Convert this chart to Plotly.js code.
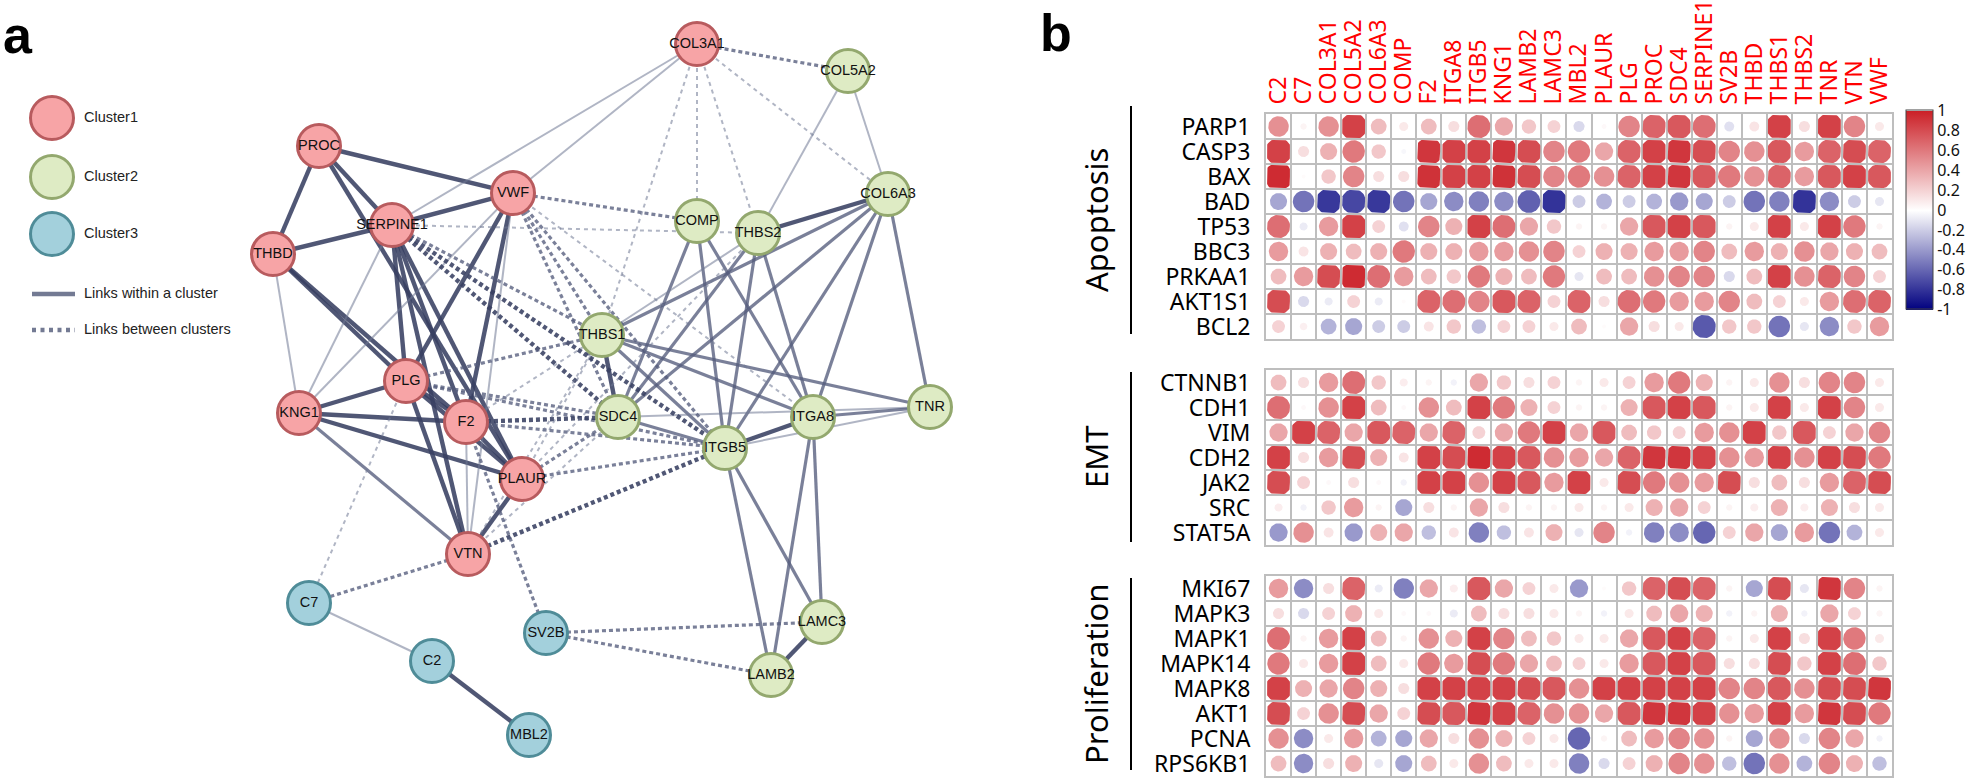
<!DOCTYPE html>
<html><head><meta charset="utf-8">
<script src="https://cdn.plot.ly/plotly-3.0.1.min.js"></script>
<style>html,body{margin:0;padding:0;background:#fff;}#chart{width:1975px;height:778px;}</style>
</head><body><div id="chart"></div>
<script>
// ---------------- DATA ----------------
// Network (panel a)
const nodeNames   = ['PROC','SERPINE1','THBD','VWF','COL3A1','PLG','KNG1','F2','PLAUR','VTN',
                     'COL5A2','COMP','THBS2','COL6A3','THBS1','SDC4','ITGB5','ITGA8','TNR','LAMC3','LAMB2',
                     'C7','C2','MBL2','SV2B'];
const nodeX       = [319,392,273,513,697,406,299,466,522,468, 848,697,758,888,602,618,725,813,930,822,771, 309,432,529,546];
const nodeY       = [146,225,254,193,44,381,413,422,479,554, 71,221,233,194,335,417,448,417,407,622,675, 603,661,735,633];
const nodeCluster = [0,0,0,0,0,0,0,0,0,0, 1,1,1,1,1,1,1,1,1,1,1, 2,2,2,2];
const clusterNames = ['Cluster1','Cluster2','Cluster3'];
// edges: [source, target, strength 1..3]
const edges = [
 ['PROC','THBD',3],['PROC','SERPINE1',3],['PROC','VWF',3],['PROC','PLAUR',3],
 ['THBD','SERPINE1',3],['THBD','KNG1',1],['THBD','PLG',3],['THBD','F2',3],
 ['SERPINE1','VWF',3],['SERPINE1','PLG',3],['SERPINE1','F2',3],['SERPINE1','PLAUR',3],['SERPINE1','VTN',3],
 ['SERPINE1','KNG1',1],['SERPINE1','COL3A1',1],['VWF','COL3A1',1],
 ['KNG1','PLG',3],['KNG1','F2',3],['KNG1','PLAUR',3],['KNG1','VTN',2],['KNG1','VWF',1],
 ['PLG','F2',3],['PLG','PLAUR',3],['PLG','VTN',3],['F2','PLAUR',3],['F2','VTN',1],['PLAUR','VTN',3],
 ['VWF','PLG',3],['VWF','F2',3],['VWF','VTN',1],
 ['COL5A2','THBS2',1],['COL5A2','COL6A3',1],['COMP','SDC4',2],['COMP','ITGB5',2],['COMP','ITGA8',2],
 ['THBS2','COL6A3',3],['THBS2','SDC4',2],['THBS2','ITGB5',2],['THBS2','ITGA8',2],['THBS2','THBS1',1],
 ['COL6A3','THBS1',2],['COL6A3','SDC4',2],['COL6A3','ITGB5',2],['COL6A3','ITGA8',2],['COL6A3','TNR',2],
 ['THBS1','SDC4',3],['THBS1','ITGB5',2],['THBS1','ITGA8',2],['THBS1','TNR',2],['SDC4','ITGB5',2],['SDC4','TNR',1],
 ['ITGB5','ITGA8',3],['ITGB5','TNR',1],['ITGA8','TNR',2],['ITGB5','LAMB2',2],['ITGB5','LAMC3',2],
 ['ITGA8','LAMB2',2],['ITGA8','LAMC3',2],['LAMB2','LAMC3',3],
 ['C7','C2',1],['C2','MBL2',3],
 ['COL3A1','COL5A2',2],['COL3A1','COMP',1],['COL3A1','THBS2',1],['COL3A1','COL6A3',1],['COL3A1','THBS1',1],
 ['VWF','COMP',2],['VWF','THBS1',2],['VWF','SDC4',2],['VWF','ITGB5',2],['VWF','ITGA8',1],
 ['SERPINE1','THBS2',1],['SERPINE1','THBS1',2],['SERPINE1','SDC4',3],['SERPINE1','ITGB5',3],
 ['PLG','THBS1',2],['PLG','SDC4',2],['PLG','ITGB5',2],['F2','SDC4',3],['F2','THBS1',1],['F2','ITGB5',2],
 ['PLAUR','SDC4',2],['PLAUR','ITGB5',2],['PLAUR','THBS1',1],['THBS2','PLAUR',1],
 ['VTN','ITGB5',3],['VTN','THBS1',1],['VTN','SDC4',1],['VTN','C7',2],['PLG','C7',1],
 ['SV2B','F2',2],['SV2B','LAMC3',2],['SV2B','LAMB2',2]
];
const legendLinkLabels = ['Links within a cluster','Links between clusters'];

// Correlation matrix (panel b)
const colNames = ['C2','C7','COL3A1','COL5A2','COL6A3','COMP','F2','ITGA8','ITGB5','KNG1','LAMB2','LAMC3','MBL2',
                  'PLAUR','PLG','PROC','SDC4','SERPINE1','SV2B','THBD','THBS1','THBS2','TNR','VTN','VWF'];
const groupNames = ['Apoptosis','EMT','Proliferation'];
const apoptosisRows = ['PARP1','CASP3','BAX','BAD','TP53','BBC3','PRKAA1','AKT1S1','BCL2'];
const emtRows = ['CTNNB1','CDH1','VIM','CDH2','JAK2','SRC','STAT5A'];
const proliferationRows = ['MKI67','MAPK3','MAPK1','MAPK14','MAPK8','AKT1','PCNA','RPS6KB1'];
const apoptosisValues = [
 [.5,.05,.5,.85,.3,.1,.3,.15,.65,.4,.25,.2,-.15,.03,.55,.7,.75,.65,-.12,.12,.85,.15,.85,.55,.1],
 [.85,.15,.35,.6,.25,-.03,.9,.85,.85,.9,.8,.55,.6,.4,.7,.85,.9,.8,.55,.5,.75,.45,.7,.8,.7],
 [.95,.02,.25,.55,.15,.15,.92,.85,.85,.92,.8,.55,.6,.5,.7,.85,.9,.75,.6,.5,.7,.45,.75,.85,.75],
 [-.35,-.55,-.78,-.72,-.78,-.55,-.35,-.45,-.5,-.45,-.62,-.8,-.2,-.3,-.2,-.3,-.4,-.35,-.2,-.55,-.5,-.8,-.45,-.2,-.1],
 [.65,-.08,.45,.85,.2,-.12,.55,.35,.85,.65,.4,.25,.05,.05,.4,.75,.85,.75,.05,.1,.85,.1,.85,.6,.05],
 [.45,.12,.35,.3,.35,.6,.35,.35,.45,.45,.5,.55,.2,.35,.35,.45,.45,.55,.3,.45,.35,.5,.4,.35,.3],
 [.3,.45,.8,.95,.65,.45,.3,.25,.6,.35,.3,.6,-.1,.3,.3,.5,.55,.55,-.15,.3,.85,.5,.7,.55,.2],
 [.8,-.15,-.08,.2,-.08,.02,.7,.65,.55,.75,.7,.2,.7,.15,.65,.6,.45,.45,.55,.3,.2,.1,.45,.65,.7],
 [.2,.07,-.3,-.35,-.2,-.2,.12,.25,-.25,.2,.2,.1,.3,.02,.4,.15,.1,-.65,.25,.25,-.55,-.1,-.45,.25,.45]
];
const emtValues = [
 [.3,.15,.45,.65,.25,.08,.05,-.05,.4,.25,.15,.2,.05,.1,.2,.45,.6,.35,.05,.1,.5,.15,.55,.55,.1],
 [.65,.03,.5,.85,.3,.03,.5,.3,.85,.6,.35,.2,.05,.05,.35,.75,.85,.75,.05,.1,.85,.1,.85,.55,.1],
 [.4,.85,.7,.4,.75,.7,.4,.7,.2,.4,.6,.85,.4,.75,.3,.25,.2,.45,.5,.85,.25,.75,.2,.4,.55],
 [.85,.15,.45,.8,.35,.12,.85,.8,.95,.85,.75,.5,.45,.4,.7,.9,.9,.85,.5,.45,.85,.5,.85,.8,.6],
 [.8,.2,.03,.15,.03,-.05,.85,.85,.5,.85,.75,.45,.85,.1,.8,.6,.5,.45,.8,.15,.3,.15,.45,.7,.8],
 [.08,-.05,.25,.45,.05,-.35,.15,.05,.4,.15,.05,.05,.1,.05,.1,.35,.4,.2,.05,.08,.35,.08,.35,.15,.1],
 [-.4,.5,.12,-.4,.35,.4,-.25,.12,-.5,-.25,.12,.35,-.1,.55,-.05,-.5,-.45,-.6,.2,.4,-.35,.45,-.55,-.3,.1]
];
const proliferationValues = [
 [.45,-.45,.15,.7,-.08,-.5,.4,.08,.75,.4,.2,.1,-.4,.02,.25,.7,.8,.7,.05,-.35,.8,-.1,.9,.55,.05],
 [.15,-.15,.2,.35,.1,.03,.03,-.08,.3,.15,.15,.1,.05,-.05,.1,.3,.4,.35,-.05,.05,.35,-.05,.4,.2,.05],
 [.65,.05,.45,.85,.3,.05,.5,.35,.85,.55,.3,.25,.1,.1,.4,.75,.85,.7,.05,.1,.85,.15,.85,.6,.1],
 [.6,.1,.45,.85,.3,.1,.6,.45,.8,.6,.4,.3,.2,.1,.45,.75,.85,.75,.15,.15,.8,.25,.85,.65,.25],
 [.85,.35,.4,.55,.35,.15,.85,.85,.85,.85,.8,.75,.5,.85,.85,.85,.85,.85,.55,.55,.75,.5,.8,.8,.9],
 [.8,.2,.5,.8,.4,.2,.8,.75,.9,.85,.7,.5,.5,.4,.75,.9,.9,.85,.5,.45,.85,.45,.9,.8,.6],
 [.5,-.45,.1,.45,-.3,-.35,.4,.15,.5,.35,.2,.1,-.6,.05,.3,.45,.55,.5,.05,-.35,.5,-.15,.55,.4,-.05],
 [.3,-.45,.15,.35,-.1,-.35,.3,.1,.5,.3,.1,.1,-.5,-.15,.2,.35,.55,.5,-.25,-.55,.5,-.3,.55,.35,-.25]
];
const colorbarTicks = [1,0.8,0.6,0.4,0.2,0,-0.2,-0.4,-0.6,-0.8,-1];

// ---------------- STYLE / LAYOUT ----------------
const W = 1975, H = 778;
const NET_W = 980;
const HX0 = 1266, HX1 = 1892;            // heatmap left/right (px)
const blocksPx = [[114,339],[370,545],[576,776]];
const NEG = [0,0,127], MID = [255,255,255], POS = [203,32,39];
const clusterFill = ['#F7A4A6','#DEEBC4','#A3D0DC'];
const clusterLine = ['#B85B5E','#93A86E','#4F8C98'];
const edgeStyle = {
  1:{color:'rgba(112,120,148,0.55)', w:2.0, dash:'4px,4px'},
  2:{color:'rgba(84,92,124,0.78)',  w:3.2, dash:'4px,3px'},
  3:{color:'rgba(56,64,98,0.88)',   w:4.4, dash:'4px,3px'}
};
const netFont = 'Liberation Sans, Arial, sans-serif';
const heatFont = 'Noto Sans, Open Sans, sans-serif';

function mix(a,b,t){return 'rgb('+a.map((v,i)=>Math.round(v+(b[i]-v)*t)).join(',')+')';}
function cellColor(v){return v>=0? mix(MID,POS,Math.min(1,v)) : mix(MID,NEG,Math.min(1,-v));}

const traces = [];
// ---- network edges
const idx = {}; nodeNames.forEach((n,i)=>idx[n]=i);
edges.forEach(e=>{
  const a = idx[e[0]], b = idx[e[1]];
  const within = nodeCluster[a]===nodeCluster[b];
  const st = edgeStyle[e[2]];
  traces.push({type:'scatter', mode:'lines', x:[nodeX[a],nodeX[b]], y:[nodeY[a],nodeY[b]],
    xaxis:'x', yaxis:'y', hoverinfo:'skip', showlegend:false,
    line:{color:st.color, width: st.w, dash: within? 'solid' : st.dash}});
});
// ---- network nodes
traces.push({type:'scatter', mode:'markers+text', x:nodeX, y:nodeY, text:nodeNames, xaxis:'x', yaxis:'y',
  textposition:'middle center', textfont:{family:netFont, size:14.5, color:'#111'},
  marker:{size:43, color:nodeCluster.map(c=>clusterFill[c]), line:{width:3, color:nodeCluster.map(c=>clusterLine[c])}},
  hoverinfo:'text', showlegend:false, cliponaxis:false});
// ---- network legend
const legX = 52, legY = [118,177,234];
traces.push({type:'scatter', mode:'markers', x:[legX,legX,legX], y:legY, xaxis:'x', yaxis:'y',
  marker:{size:43, color:clusterFill, line:{width:3, color:clusterLine}}, hoverinfo:'skip', showlegend:false});
traces.push({type:'scatter', mode:'text', x:[84,84,84,84,84], y:legY.concat([294,330]),
  text:clusterNames.concat(legendLinkLabels), textposition:'middle right', xaxis:'x', yaxis:'y',
  textfont:{family:netFont, size:14.5, color:'#222'}, hoverinfo:'skip', showlegend:false, cliponaxis:false});
traces.push({type:'scatter', mode:'lines', x:[32,75], y:[294,294], xaxis:'x', yaxis:'y',
  line:{color:'rgba(100,108,135,0.9)', width:4.5}, hoverinfo:'skip', showlegend:false});
traces.push({type:'scatter', mode:'lines', x:[32,75], y:[330,330], xaxis:'x', yaxis:'y',
  line:{color:'rgba(100,108,135,0.9)', width:4.5, dash:'4px,4.5px'}, hoverinfo:'skip', showlegend:false});

// ---- correlation matrix cells
const blocks = [
  {rows:apoptosisRows, vals:apoptosisValues, xa:'x2', ya:'y2'},
  {rows:emtRows, vals:emtValues, xa:'x3', ya:'y3'},
  {rows:proliferationRows, vals:proliferationValues, xa:'x4', ya:'y4'}
];
const ux = (HX1-HX0)/colNames.length, uy = 25;
const DMAX = 29, HALF = 11.4, NPTS = 56;
blocks.forEach(b=>{
  const groups = {};
  b.vals.forEach((row,i)=>row.forEach((v,j)=>{
    const key = v.toFixed(3);
    if(!groups[key]) groups[key] = {v:v, x:[], y:[]};
    const g = groups[key];
    const R = DMAX*Math.sqrt(Math.abs(v))/2;
    for(let k=0;k<=NPTS;k++){
      const t = 2*Math.PI*k/NPTS;
      const px = Math.max(-HALF, Math.min(HALF, R*Math.cos(t)));
      const py = Math.max(-HALF, Math.min(HALF, R*Math.sin(t)));
      g.x.push(j+1+px/ux); g.y.push(i+1+py/uy);
    }
    g.x.push(null); g.y.push(null);
  }));
  Object.values(groups).forEach(g=>{
    traces.push({type:'scatter', mode:'lines', x:g.x, y:g.y, xaxis:b.xa, yaxis:b.ya, fill:'toself',
      fillcolor:cellColor(g.v), line:{width:0, color:'rgba(0,0,0,0)'}, hoverinfo:'skip', showlegend:false});
  });
});
// ---- colorbar carrier
traces.push({type:'scatter', mode:'markers', x:[1], y:[1], xaxis:'x2', yaxis:'y2', hoverinfo:'skip', showlegend:false,
  marker:{opacity:0, size:1, color:[0], cmin:-1, cmax:1,
    colorscale:[[0,mix(MID,NEG,1)],[0.5,'rgb(255,255,255)'],[1,mix(MID,POS,1)]], showscale:true,
    colorbar:{x:1906/W, xanchor:'left', xpad:0, ypad:0, y:1-210/H, yanchor:'middle', len:199, lenmode:'pixels',
      thickness:27, thicknessmode:'pixels', outlinewidth:1, outlinecolor:'#444',
      tickmode:'array', tickvals:colorbarTicks, ticktext:colorbarTicks.map(String), ticks:'',
      tickfont:{family:heatFont, size:16, color:'#111'}}}});

// ---- axes
const gridCol = '#BEBEBE';
function heatX(anchor, showLabels){
  return {domain:[HX0/W, HX1/W], range:[0.5, colNames.length+0.5], anchor:anchor, side:'top',
    tickmode:'array', tickvals:colNames.map((_,i)=>i+1), ticktext:colNames, tickangle:-90,
    showticklabels:showLabels, tickfont:{family:heatFont, size:23, color:'#FF0000'}, ticklabeloverflow:'allow',
    ticks:'outside', ticklen:3, tickcolor:'rgba(0,0,0,0)', showgrid:false, zeroline:false,
    showline:true, mirror:true, linecolor:gridCol, linewidth:2, fixedrange:true,
    minor:{tick0:0.5, dtick:1, showgrid:true, gridcolor:gridCol, gridwidth:2, ticks:''}};
}
function heatY(anchor, rows, px){
  return {domain:[1-px[1]/H, 1-px[0]/H], range:[rows.length+0.5, 0.5], anchor:anchor,
    tickmode:'array', tickvals:rows.map((_,i)=>i+1), ticktext:rows, ticklabeloverflow:'allow',
    tickfont:{family:heatFont, size:23, color:'#000'},
    ticks:'outside', ticklen:9, tickcolor:'rgba(0,0,0,0)', showgrid:false, zeroline:false,
    showline:true, mirror:true, linecolor:gridCol, linewidth:2, fixedrange:true,
    minor:{tick0:0.5, dtick:1, showgrid:true, gridcolor:gridCol, gridwidth:2, ticks:''}};
}
const groupLinesPx = [[106,334],[372,542],[578,770]];
const shapes = groupLinesPx.map(p=>({type:'line', xref:'paper', yref:'paper', x0:1131/W, x1:1131/W,
  y0:1-p[0]/H, y1:1-p[1]/H, line:{color:'#000', width:2}}));
const annotations = groupNames.map((g,i)=>({xref:'paper', yref:'paper', x:1096/W,
  y:1-((groupLinesPx[i][0]+groupLinesPx[i][1])/2)/H, text:g, textangle:-90, showarrow:false,
  xanchor:'center', yanchor:'middle', font:{family:heatFont, size:31, color:'#000'}}));
annotations.push({xref:'paper', yref:'paper', x:0, y:1, xanchor:'left', yanchor:'top', xshift:1, yshift:-4,
  text:'<b>a</b>', showarrow:false, font:{family:netFont, size:52, color:'#000'}});
annotations.push({xref:'paper', yref:'paper', x:1038/W, y:1, xanchor:'left', yanchor:'top', yshift:-2,
  text:'<b>b</b>', showarrow:false, font:{family:netFont, size:52, color:'#000'}});

const layout = {
  width:W, height:H, margin:{l:0,r:0,t:0,b:0}, paper_bgcolor:'#fff', plot_bgcolor:'rgba(0,0,0,0)',
  showlegend:false, hovermode:false,
  xaxis:{domain:[0,NET_W/W], range:[0,NET_W], visible:false, fixedrange:true},
  yaxis:{domain:[0,1], range:[H,0], visible:false, fixedrange:true},
  xaxis2:heatX('y2', true), xaxis3:heatX('y3', false), xaxis4:heatX('y4', false),
  yaxis2:heatY('x2', apoptosisRows, blocksPx[0]),
  yaxis3:heatY('x3', emtRows, blocksPx[1]),
  yaxis4:heatY('x4', proliferationRows, blocksPx[2]),
  shapes:shapes, annotations:annotations
};
Plotly.newPlot('chart', traces, layout, {staticPlot:true, displayModeBar:false});
</script></body></html>
